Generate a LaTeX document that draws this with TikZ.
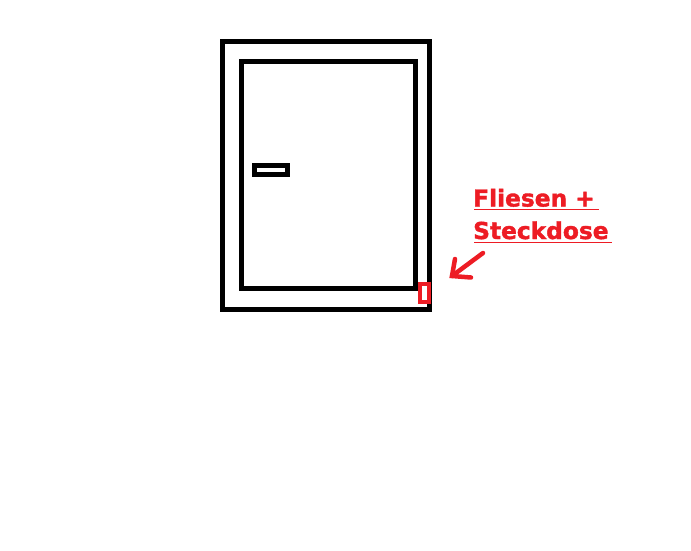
\documentclass[tikz,border=0pt]{standalone}
\usepackage{fontspec}
\newfontfamily\labelfont[FakeBold=1.6]{DejaVu Sans Bold}
\definecolor{paintred}{RGB}{237,28,36}
\begin{document}
\begin{tikzpicture}[x=1pt,y=-1pt,
  frame/.style={draw=black,line width=5pt},
  redline/.style={draw=paintred,line width=4.5pt,line cap=round},
  lbl/.style={inner sep=0pt,anchor=base west,text=paintred,font=\labelfont\fontsize{23.3}{28}\selectfont}]
\useasboundingbox[fill=white] (0,0) rectangle (691,551);
\draw[frame] (222.5,41.5) rectangle (429.5,309.5);
\draw[frame] (241.5,61.5) rectangle (415,288.5);
\draw[frame] (254.5,165.5) rectangle (287.5,174.5);
\draw[draw=paintred,line width=4pt,fill=white] (420,284) rectangle (429,302);
\node[lbl] (t1) at (473,206.5) {Fliesen +};
\node[lbl] (t2) at (473,239) {Steckdose};
\draw[draw=paintred,line width=1.8pt] (474,209.5) -- (599,209.5);
\draw[draw=paintred,line width=1.8pt] (474,242.5) -- (612,242.5);
\coordinate (tail) at (483,253);
\coordinate (tip) at (452,276);
\draw[redline] (tail) -- (tip);
\draw[redline] (455,259) -- (tip) -- (471,277.5);
\end{tikzpicture}
\end{document}
